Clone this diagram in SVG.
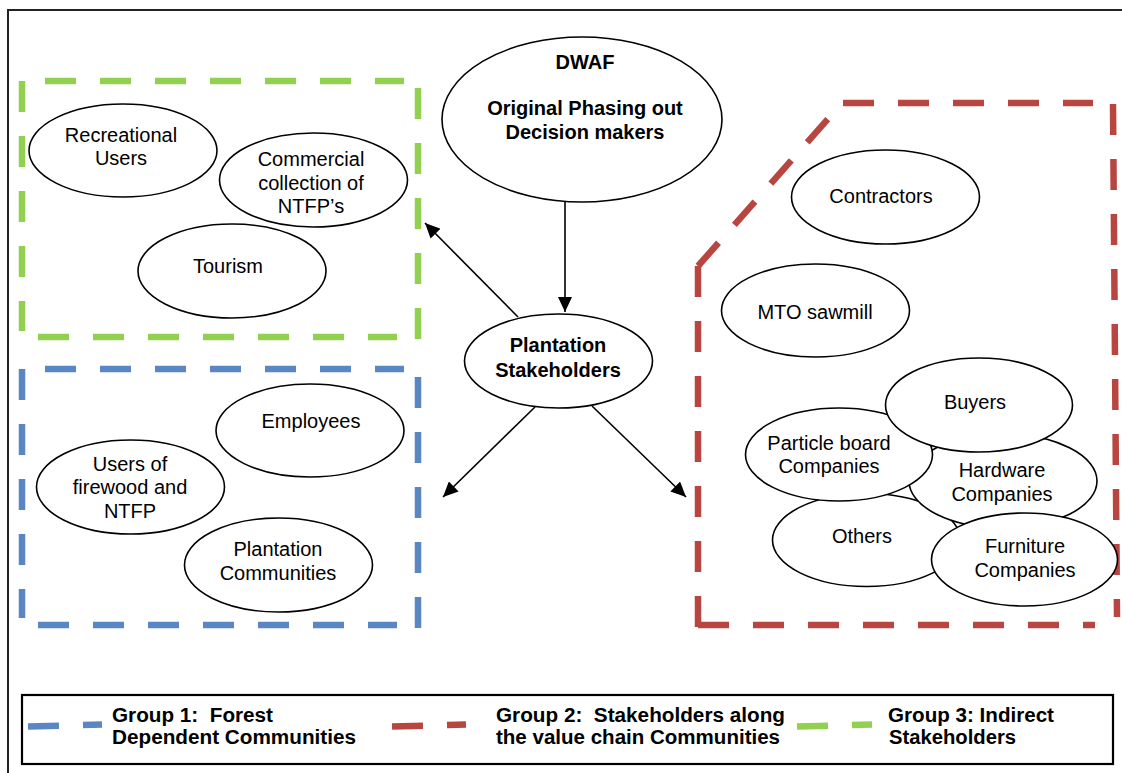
<svg xmlns="http://www.w3.org/2000/svg" width="1122" height="773" viewBox="0 0 1122 773">
<style>
  .node ellipse { fill: #ffffff; stroke: #000000; stroke-width: 1.6; }
  .t { font-family: "Liberation Sans", Arial, sans-serif; font-size: 20px; fill: #000; text-anchor: middle; }
  .b { font-weight: bold; }
  .lg { font-family: "Liberation Sans", Arial, sans-serif; font-size: 19.5px; font-weight: bold; fill: #000; }
  .d { fill: none; stroke-width: 6.5; stroke-dasharray: 31 24; }
  .green { stroke: #92D050; }
  .blue { stroke: #5A86C4; }
  .red { stroke: #B94541; }
  .conn line { stroke: #000; stroke-width: 1.6; marker-end: url(#arrow); }
</style>
<defs>
  <marker id="arrow" markerUnits="userSpaceOnUse" markerWidth="16" markerHeight="14" refX="15" refY="7" orient="auto">
    <path d="M0,0 L15,7 L0,14 Z" fill="#000"/>
  </marker>
</defs>
<rect width="1122" height="773" fill="#ffffff"/>
<!-- outer frame -->
<path d="M8,773 V10 H1122" fill="none" stroke="#222" stroke-width="2"/>

<!-- group 3 (green) -->
<g id="group3-box">
  <line class="d green" x1="45" y1="81" x2="404" y2="81"/>
  <line class="d green" x1="418" y1="88" x2="418" y2="340"/>
  <line class="d green" x1="38" y1="337" x2="397" y2="337"/>
  <line class="d green" x1="22" y1="81" x2="22" y2="331"/>
</g>
<!-- group 1 (blue) -->
<g id="group1-box">
  <line class="d blue" x1="45" y1="369" x2="404" y2="369"/>
  <line class="d blue" x1="418" y1="377" x2="418" y2="628"/>
  <line class="d blue" x1="38" y1="625" x2="397" y2="625"/>
  <line class="d blue" x1="22" y1="369" x2="22" y2="618"/>
</g>
<!-- group 2 (red) -->
<g id="group2-box">
  <line class="d red" x1="698" y1="266" x2="842" y2="103"/>
  <line class="d red" x1="843" y1="103" x2="1093" y2="103"/>
  <line class="d red" x1="1113" y1="104" x2="1117" y2="617"/>
  <line class="d red" x1="698" y1="625" x2="1095" y2="625"/>
  <line class="d red" x1="698" y1="266" x2="698" y2="628"/>
</g>

<!-- connectors -->
<g id="connectors" class="conn">
  <line x1="565" y1="200" x2="565" y2="312"/>
  <line x1="518" y1="317" x2="425" y2="223"/>
  <line x1="535" y1="407" x2="443" y2="497"/>
  <line x1="592" y1="406" x2="686" y2="497"/>
</g>

<!-- nodes -->
<g id="dwaf" class="node">
  <ellipse cx="582" cy="119.5" rx="140" ry="82.5"/>
  <text class="t b" x="585" y="69">DWAF</text>
  <text class="t b" x="585" y="115">Original Phasing out</text>
  <text class="t b" x="585" y="139">Decision makers</text>
</g>
<g id="plantation-stakeholders" class="node">
  <ellipse cx="558.5" cy="361" rx="94" ry="47"/>
  <text class="t b" x="558" y="352">Plantation</text>
  <text class="t b" x="558" y="377">Stakeholders</text>
</g>

<g id="recreational-users" class="node">
  <ellipse cx="123" cy="150.5" rx="94" ry="46.5"/>
  <text class="t" x="121" y="142">Recreational</text>
  <text class="t" x="121" y="165">Users</text>
</g>
<g id="commercial-collection" class="node">
  <ellipse cx="313.5" cy="180" rx="94" ry="47"/>
  <text class="t" x="311" y="166">Commercial</text>
  <text class="t" x="311" y="190">collection of</text>
  <text class="t" x="311" y="213">NTFP’s</text>
</g>
<g id="tourism" class="node">
  <ellipse cx="232" cy="271" rx="94" ry="47"/>
  <text class="t" x="228" y="273">Tourism</text>
</g>

<g id="employees" class="node">
  <ellipse cx="310" cy="430.5" rx="94" ry="46.5"/>
  <text class="t" x="311" y="428">Employees</text>
</g>
<g id="users-firewood" class="node">
  <ellipse cx="130.5" cy="487" rx="94" ry="47"/>
  <text class="t" x="130" y="471">Users of</text>
  <text class="t" x="130" y="494">firewood and</text>
  <text class="t" x="130" y="518">NTFP</text>
</g>
<g id="plantation-communities" class="node">
  <ellipse cx="278.5" cy="565" rx="94" ry="47"/>
  <text class="t" x="278" y="556">Plantation</text>
  <text class="t" x="278" y="580">Communities</text>
</g>

<g id="contractors" class="node">
  <ellipse cx="885.5" cy="197" rx="94" ry="47"/>
  <text class="t" x="881" y="203">Contractors</text>
</g>
<g id="mto-sawmill" class="node">
  <ellipse cx="815.5" cy="310.5" rx="94" ry="46.5"/>
  <text class="t" x="815" y="319">MTO sawmill</text>
</g>
<g id="others" class="node">
  <ellipse cx="866.5" cy="540" rx="94" ry="46.5"/>
  <text class="t" x="862" y="543">Others</text>
</g>
<g id="hardware-companies" class="node">
  <ellipse cx="1003" cy="481" rx="94" ry="47"/>
  <text class="t" x="1002" y="477">Hardware</text>
  <text class="t" x="1002" y="501">Companies</text>
</g>
<g id="particle-board" class="node">
  <ellipse cx="839" cy="454.5" rx="93.5" ry="46.5"/>
  <text class="t" x="829" y="450">Particle board</text>
  <text class="t" x="829" y="473">Companies</text>
</g>
<g id="buyers" class="node">
  <ellipse cx="979" cy="405" rx="93.5" ry="47"/>
  <text class="t" x="975" y="409">Buyers</text>
</g>
<g id="furniture-companies" class="node">
  <ellipse cx="1024.5" cy="559.5" rx="93" ry="46.5"/>
  <text class="t" x="1025" y="553">Furniture</text>
  <text class="t" x="1025" y="577">Companies</text>
</g>

<!-- legend -->
<g id="legend">
  <rect x="22" y="695" width="1091" height="69" fill="#fff" stroke="#000" stroke-width="2.2"/>
  <line class="d blue" x1="28" y1="726.5" x2="102" y2="724.5"/>
  <line class="d red" x1="392" y1="726.5" x2="466" y2="724.5"/>
  <line class="d green" x1="797" y1="726.5" x2="872" y2="724.5"/>
  <text class="lg" x="112" y="722" textLength="161" lengthAdjust="spacingAndGlyphs" xml:space="preserve">Group 1:  Forest</text>
  <text class="lg" x="112" y="744" textLength="244" lengthAdjust="spacingAndGlyphs">Dependent Communities</text>
  <text class="lg" x="496" y="722" textLength="289" lengthAdjust="spacingAndGlyphs" xml:space="preserve">Group 2:  Stakeholders along</text>
  <text class="lg" x="496" y="744" textLength="284" lengthAdjust="spacingAndGlyphs">the value chain Communities</text>
  <text class="lg" x="888" y="722" textLength="166" lengthAdjust="spacingAndGlyphs">Group 3: Indirect</text>
  <text class="lg" x="889" y="744" textLength="127" lengthAdjust="spacingAndGlyphs">Stakeholders</text>
</g>
</svg>
